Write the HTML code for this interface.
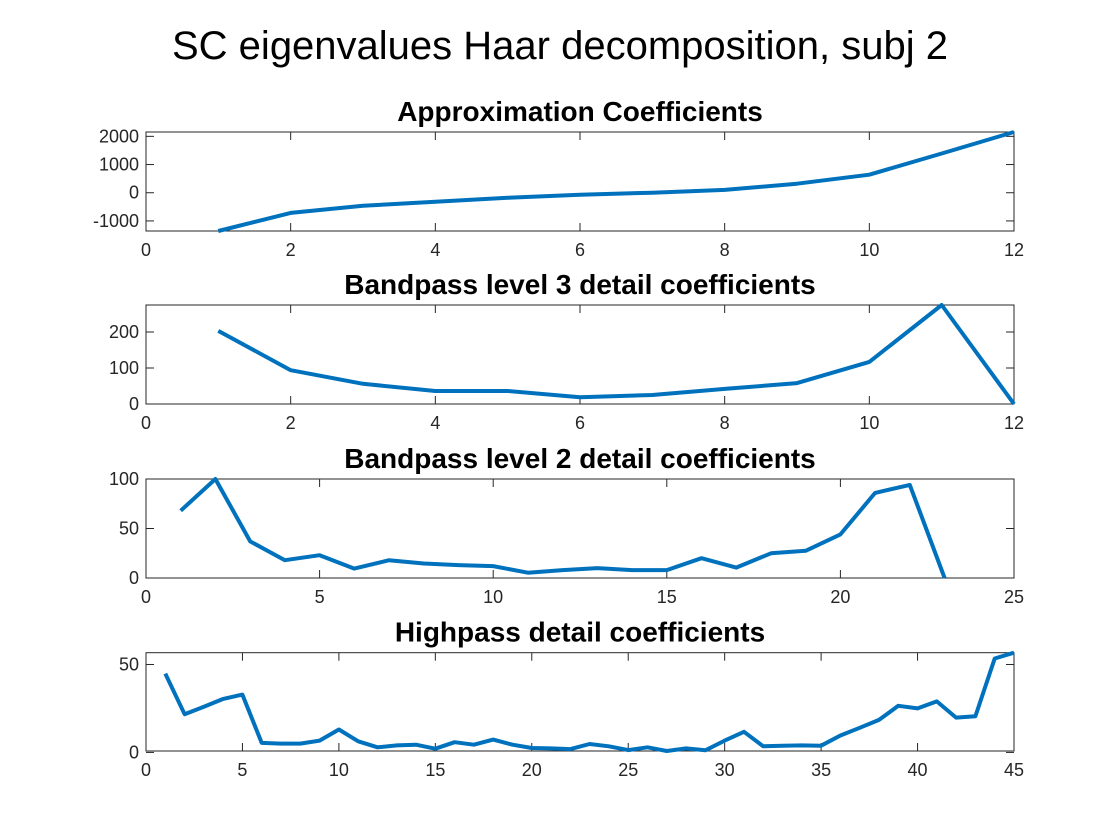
<!DOCTYPE html>
<html><head><meta charset="utf-8">
<style>
body{margin:0;background:#fff;}
svg{display:block;font-family:"Liberation Sans",Arial,sans-serif;}
</style></head>
<body>
<svg id="fig" width="1120" height="840" viewBox="0 0 1120 840">
<rect width="1120" height="840" fill="#fff"/>
<text x="560" y="59" font-size="40" text-anchor="middle" fill="#000">SC eigenvalues Haar decomposition, subj 2</text>
</svg>
<script>
const approxValues=[-1357,-714,-464,-320,-180,-70,0,100,320,640,1390,2154];
const approxYTicks=[-1000,0,1000,2000];
const approxXTicks=[0,2,4,6,8,10,12];
const lvl3Values=[203,94,56,36,36,19,25,42,58,117,275,0];
const lvl3YTicks=[0,100,200];
const lvl3XTicks=[0,2,4,6,8,10,12];
const lvl2Values=[68,100,37,18,23,9.5,18,14.6,13,12,5.4,8,10,8,8,20,10.5,25,27.5,44,86,94,0];
const lvl2YTicks=[0,50,100];
const lvl2XTicks=[0,5,10,15,20,25];
const highValues=[44.8,21.7,26,30.4,32.9,5.4,5,5,6.7,13,6.3,2.9,4,4.4,2.1,5.8,4.4,7.3,4.4,2.5,2.3,1.9,4.8,3.5,1.3,2.9,0.8,2.3,1.2,6.7,11.7,3.5,3.8,4,3.8,9.6,14,18.5,26.5,25,29,19.8,20.6,53.4,56.7];
const highYTicks=[0,50];
const highXTicks=[0,5,10,15,20,25,30,35,40,45];

const NS='http://www.w3.org/2000/svg';
const svg=document.getElementById('fig');
function mk(tag,attrs,parent){const e=document.createElementNS(NS,tag);for(const k in attrs)e.setAttribute(k,attrs[k]);(parent||svg).appendChild(e);return e;}

function panel(name,title,vals,yt,xt,xmax,top,bottom){
  const L=146,R=1014;
  const ymin=Math.min(...vals),ymax=Math.max(...vals);
  const g=mk('g',{});
  
  
  const sx=v=>L+(v-0)/(xmax-0)*(R-L);
  const sy=v=>bottom-(v-ymin)/(ymax-ymin)*(bottom-top);
  const t=mk('text',{x:(L+R)/2,y:top-11,'font-size':28,'font-weight':'bold','text-anchor':'middle'},g);
  t.textContent=title;
  
  
  const box=mk('rect',{x:L,y:top,width:R-L,height:bottom-top,fill:'none',stroke:'#262626','stroke-width':1},g);
  
  
  xt.forEach(v=>{
    const x=sx(v);
    mk('line',{x1:x,x2:x,y1:bottom,y2:bottom-8,stroke:'#262626'},g);
    mk('line',{x1:x,x2:x,y1:top,y2:top+8,stroke:'#262626'},g);
    const l=mk('text',{x:x,y:bottom+25,'font-size':18,'text-anchor':'middle',fill:'#262626'},g);
    l.textContent=v;
    
    
  });
  yt.forEach(v=>{
    const y=sy(v);
    mk('line',{x1:L,x2:L+8,y1:y,y2:y,stroke:'#262626'},g);
    mk('line',{x1:R,x2:R-8,y1:y,y2:y,stroke:'#262626'},g);
    const l=mk('text',{x:L-7,y:y+6,'font-size':18,'text-anchor':'end',fill:'#262626'},g);
    l.textContent=v;
    
    
  });
  const pts=vals.map((v,i)=>sx(i+1).toFixed(1)+','+sy(v).toFixed(1)).join(' ');
  const p=mk('polyline',{points:pts,fill:'none',stroke:'#0072BD','stroke-width':4,'stroke-linejoin':'round'},g);
  
  
}
panel('approximation','Approximation Coefficients',approxValues,approxYTicks,approxXTicks,12,132,231);
panel('bandpass-level-3','Bandpass level 3 detail coefficients',lvl3Values,lvl3YTicks,lvl3XTicks,12,305,404);
panel('bandpass-level-2','Bandpass level 2 detail coefficients',lvl2Values,lvl2YTicks,lvl2XTicks,25,479,578);
panel('highpass','Highpass detail coefficients',highValues,highYTicks,highXTicks,45,652.7,751);
</script>
</body></html>
